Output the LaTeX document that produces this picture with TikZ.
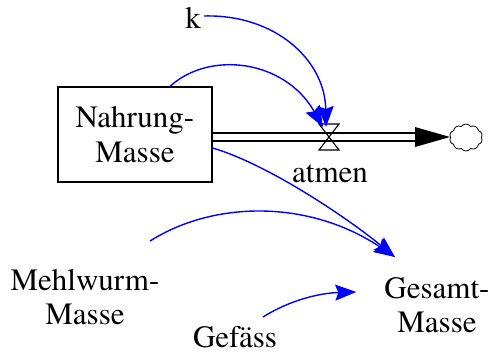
\documentclass[tikz,border=0pt]{standalone}
\usepackage{fontspec}
\setmainfont{TeX Gyre Termes}
\usetikzlibrary{arrows.meta,shapes.symbols}
\tikzset{
  lbl/.style={font=\rmfamily\fontsize{31}{34.5}\selectfont, align=center, inner sep=0pt},
  infl/.style={draw=blue, line width=1.4pt, -{Stealth[length=21pt,width=16pt,inset=3pt,blue]}},
  stockbox/.style={draw, line width=1.3pt, minimum width=154pt, minimum height=95pt, inner sep=0pt},
}
\begin{document}
\begin{tikzpicture}[x=1pt,y=-1pt]
\useasboundingbox (0,0) rectangle (490,354);
% nodes
\node[stockbox, lbl] (stock) at (135,134.5) {Nahrung-\\Masse};
\coordinate (valve) at (329,137);
\node[cloud, cloud puffs=10, cloud puff arc=110, draw, line width=0.8pt, minimum width=33pt, minimum height=27pt, inner sep=0pt, aspect=1.2] (cl) at (466,137.5) {};
\coordinate (tip) at (450,137);
\node[lbl, anchor=base] (k) at (193,28) {k};
\node[lbl, anchor=base] (atmen) at (330,182) {atmen};
\node[lbl] (mehl) at (85,297) {Mehlwurm-\\Masse};
\node[lbl] (ges) at (437,305) {Gesamt-\\Masse};
\node[lbl, anchor=base] (gef) at (235,347) {Gefäss};
% pipe
\draw[double, double distance=6pt, line width=1.6pt] (stock.east |- valve) -- ([xshift=-35]tip);
\fill (tip) -- ++(-35,-10) -- ++(0,20) -- cycle;
% valve
\draw[line width=1.1pt] ([shift={(-10,-13)}]valve) -- ([shift={(10,-13)}]valve) -- (valve) -- cycle;
\draw[line width=1.1pt] ([shift={(-10,13)}]valve) -- ([shift={(10,13)}]valve) -- (valve) -- cycle;
% influences
\coordinate (ktop) at (326,127);
\coordinate (ntop) at (323,127);
\coordinate (gin) at (395,257);
\coordinate (mout) at (150,241);
\coordinate (gout) at (263,317);
\draw[infl] ([xshift=3]k.east |- 0,16) .. controls (275,14) and (325,60) .. (ktop);
\draw[infl] (stock.north -| 170,0) .. controls (210,50) and (285,60) .. (ntop);
\draw[infl] (stock.east |- 0,148) .. controls (270,165) and (350,220) .. (gin);
\draw[infl] (mout) .. controls (215,200) and (310,200) .. (gin);
\draw[infl] (gout) .. controls (290,300) and (320,293) .. ([xshift=-28]ges.west |- 0,292);
\end{tikzpicture}
\end{document}
